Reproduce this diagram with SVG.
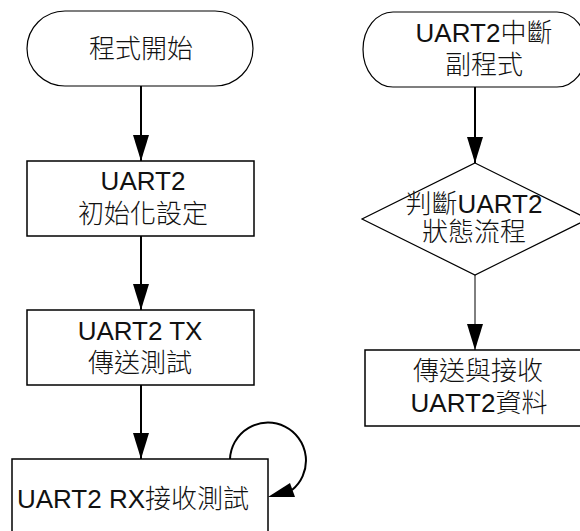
<svg xmlns="http://www.w3.org/2000/svg" width="580" height="531" viewBox="0 0 580 531">
<style>
text{font-family:"Liberation Sans","Noto Sans CJK TC",sans-serif;font-size:26px;font-weight:400;fill:#111;text-anchor:middle}
.c{font-family:"Noto Sans CJK TC",sans-serif;font-weight:300}
.shape{fill:#fff;stroke:#000;stroke-width:1.5}
.term{fill:#fff;stroke:#000;stroke-width:1.2}
.conn{fill:none;stroke:#000;stroke-width:2}
.thin{fill:none;stroke:#000;stroke-width:1}
</style>
<defs>
<marker id="ah" markerUnits="userSpaceOnUse" markerWidth="26" markerHeight="16" viewBox="0 0 26 16" refX="26" refY="8" orient="auto">
<path d="M0,0 L26,8 L0,16 z" fill="#000"/>
</marker>
</defs>
<rect width="580" height="531" fill="#fff"/>
<g id="start">
<rect class="term" x="27" y="11" width="226" height="75" rx="38" ry="37.5"/>
<text x="141" y="58" class="c">程式開始</text>
</g>
<g id="init">
<rect class="shape" x="27" y="161" width="227" height="75"/>
<text x="143" y="190">UART2</text>
<text x="143" y="223" class="c">初始化設定</text>
</g>
<g id="tx">
<rect class="shape" x="27" y="310" width="227" height="75"/>
<text x="140" y="340">UART2 TX</text>
<text x="140" y="372" class="c">傳送測試</text>
</g>
<g id="rx">
<rect class="shape" x="12" y="459" width="256" height="82"/>
<text x="133" y="508">UART2 RX<tspan class="c">接收測試</tspan></text>
</g>
<g id="isr">
<rect class="term" x="363" y="12" width="224" height="75" rx="30" ry="37.5"/>
<text x="484" y="42">UART2<tspan class="c">中斷</tspan></text>
<text x="484" y="74" class="c">副程式</text>
</g>
<g id="decide">
<polygon class="term" points="475,163 588,219 475,275 362,219"/>
<text x="474" y="213"><tspan class="c">判斷</tspan>UART2</text>
<text x="474" y="241" class="c">狀態流程</text>
</g>
<g id="txrx">
<rect class="shape" x="365" y="350" width="220" height="76"/>
<text x="478" y="380" class="c">傳送與接收</text>
<text x="479" y="412">UART2<tspan class="c">資料</tspan></text>
</g>
<g id="connectors">
<line class="conn" x1="141" y1="86" x2="141" y2="161" marker-end="url(#ah)"/>
<line class="conn" x1="141" y1="236" x2="141" y2="310" marker-end="url(#ah)"/>
<line class="conn" x1="141" y1="385" x2="141" y2="459" marker-end="url(#ah)"/>
<line class="conn" x1="475" y1="87" x2="475" y2="163" marker-end="url(#ah)"/>
<line class="thin" x1="475" y1="275" x2="475" y2="350" marker-end="url(#ah)"/>
<path class="conn" d="M230,459 A38,38 0 1 1 292,490"/>
<polygon points="268,497 295,497 290,483" fill="#000"/>
</g>
</svg>
